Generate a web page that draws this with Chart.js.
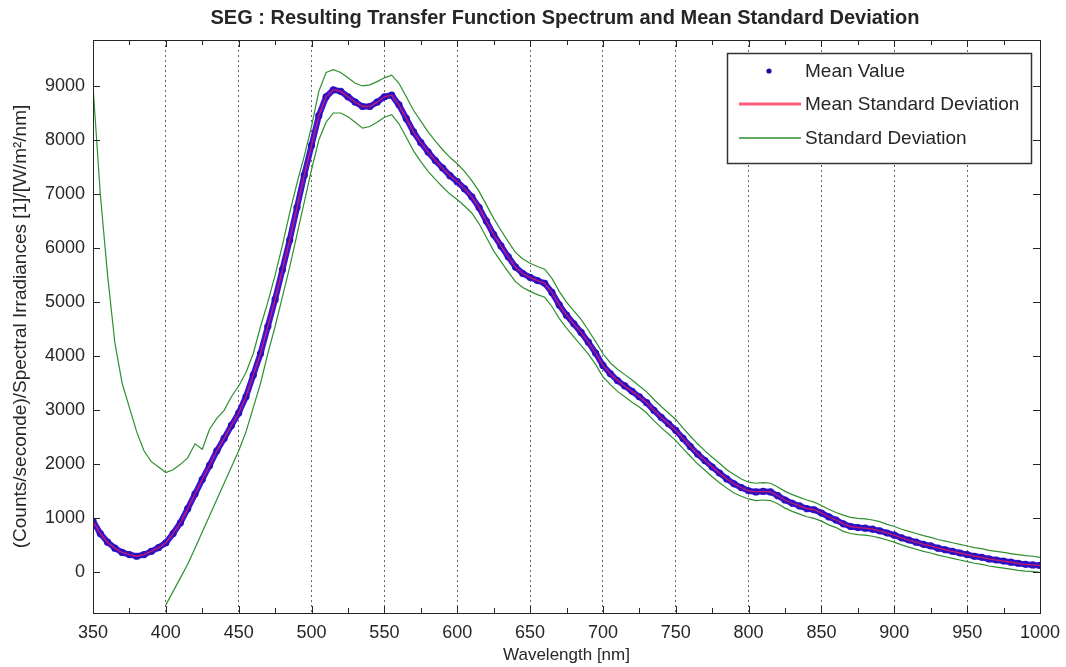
<!DOCTYPE html>
<html>
<head>
<meta charset="utf-8">
<script src="https://cdn.jsdelivr.net/npm/chart.js@4"></script>
<style>
  html, body { margin: 0; padding: 0; background: #fff; }
  #wrap { width: 1066px; height: 667px; }
</style>
</head>
<body>
<div id="wrap"><canvas id="spectrum" width="1066" height="667"></canvas></div>
<script>
// wavelength grid [nm]
const wavelengths = [
  350, 355, 360, 365, 370, 375, 380, 385, 390, 395, 400, 405, 410, 415, 420, 425, 430, 435, 440, 445,
  450, 455, 460, 465, 470, 475, 480, 485, 490, 495, 500, 505, 510, 515, 520, 525, 530, 535, 540, 545,
  550, 555, 560, 565, 570, 575, 580, 585, 590, 595, 600, 605, 610, 615, 620, 625, 630, 635, 640, 645,
  650, 655, 660, 665, 670, 675, 680, 685, 690, 695, 700, 705, 710, 715, 720, 725, 730, 735, 740, 745,
  750, 755, 760, 765, 770, 775, 780, 785, 790, 795, 800, 805, 810, 815, 820, 825, 830, 835, 840, 845,
  850, 855, 860, 865, 870, 875, 880, 885, 890, 895, 900, 905, 910, 915, 920, 925, 930, 935, 940, 945,
  950, 955, 960, 965, 970, 975, 980, 985, 990, 995, 1000
];

// mean transfer function
const meanValues = [
  950, 720, 560, 450, 370, 330, 300, 330, 390, 460, 550, 720, 920, 1180, 1450, 1720, 1980, 2250, 2480, 2720,
  2950, 3250, 3650, 4050, 4550, 5050, 5600, 6150, 6750, 7350, 7900, 8450, 8800, 8930, 8900, 8800, 8700, 8620, 8620, 8700,
  8800, 8830, 8650, 8400, 8150, 7950, 7780, 7620, 7480, 7340, 7230, 7100, 6950, 6750, 6500, 6250, 6040, 5840, 5650, 5530,
  5460, 5400, 5350, 5180, 4950, 4760, 4600, 4440, 4260, 4060, 3830, 3680, 3550, 3450, 3350, 3250, 3140, 3000, 2870, 2750,
  2630, 2480, 2330, 2190, 2070, 1950, 1840, 1730, 1640, 1570, 1510, 1490, 1500, 1490, 1420, 1340, 1280, 1230, 1180, 1160,
  1100, 1030, 970, 900, 850, 830, 820, 800, 770, 730, 690, 640, 600, 560, 520, 490, 450, 420, 390, 360,
  330, 300, 280, 250, 230, 210, 190, 170, 150, 140, 130
];

// mean + standard deviation
const upperStd = [
  9000, 7000, 5500, 4250, 3500, 3050, 2600, 2250, 2050, 1950, 1850, 1900, 2000, 2120, 2380, 2280, 2650, 2850, 3000, 3250,
  3450, 3700, 4050, 4550, 5000, 5500, 6050, 6650, 7200, 7700, 8250, 8900, 9250, 9300, 9250, 9150, 9050, 9000, 9020, 9080,
  9150, 9200, 9050, 8800, 8550, 8350, 8150, 7980, 7820, 7680, 7560, 7420, 7250, 7050, 6800, 6550, 6330, 6120, 5920, 5800,
  5720, 5660, 5610, 5440, 5200, 5000, 4840, 4680, 4480, 4270, 4050, 3880, 3760, 3660, 3560, 3450, 3340, 3200, 3070, 2950,
  2830, 2670, 2520, 2380, 2250, 2130, 2020, 1900, 1810, 1730, 1670, 1650, 1660, 1650, 1580, 1500, 1440, 1390, 1340, 1300,
  1240, 1170, 1110, 1060, 1020, 1000, 990, 970, 940, 890, 850, 800, 760, 720, 680, 650, 610, 580, 550, 520,
  490, 460, 440, 410, 390, 370, 350, 330, 310, 300, 280
];

// mean - standard deviation (not plotted below 400 nm)
const lowerStd = [
  null, null, null, null, null, null, null, null, null, null, -600, -350, -100, 150, 450, 750, 1050, 1350, 1650, 1950,
  2250, 2600, 3050, 3500, 4050, 4550, 5100, 5650, 6250, 6850, 7450, 8000, 8330, 8500, 8500, 8430, 8330, 8220, 8250, 8330,
  8420, 8470, 8300, 8050, 7800, 7600, 7420, 7270, 7130, 7000, 6900, 6780, 6650, 6450, 6200, 5950, 5750, 5560, 5380, 5270,
  5200, 5140, 5090, 4920, 4700, 4520, 4360, 4200, 4040, 3850, 3620, 3480, 3350, 3250, 3150, 3060, 2950, 2810, 2680, 2560,
  2440, 2290, 2150, 2010, 1890, 1770, 1660, 1560, 1470, 1410, 1360, 1330, 1340, 1330, 1270, 1190, 1130, 1080, 1030, 1000,
  950, 880, 830, 760, 720, 700, 690, 670, 640, 600, 560, 510, 470, 430, 390, 360, 320, 290, 260, 230,
  200, 170, 150, 120, 100, 80, 60, 40, 25, 15, 0
];

const xTicks = [350, 400, 450, 500, 550, 600, 650, 700, 750, 800, 850, 900, 950, 1000];
const yTicks = [0, 1000, 2000, 3000, 4000, 5000, 6000, 7000, 8000, 9000];
const seriesNames = ["Mean Value", "Mean Standard Deviation", "Standard Deviation"];

const FONT = "'Liberation Sans', Arial, Helvetica, sans-serif";
const TEXT = "#262626";
const BLUE = "#3a16d2";
const RED = "rgba(255, 30, 80, 0.75)";
const GREEN = "#2f8f2f";

function pts(vals) {
    return wavelengths.map((w, i) => ({ x: w, y: vals[i] }));
}

// axes box, inward ticks, title and boxed legend like the original figure
const figureDecor = {
    id: "figureDecor",
    afterDraw(chart) {
        const ctx = chart.ctx;
        const a = chart.chartArea;
        const xs = chart.scales.x, ys = chart.scales.y;
        ctx.save();
        ctx.strokeStyle = TEXT;
        ctx.lineWidth = 1;
        ctx.strokeRect(Math.round(a.left) + 0.5, Math.round(a.top) + 0.5,
            Math.round(a.right - a.left), Math.round(a.bottom - a.top));

        ctx.beginPath();
        for (let v = 350; v <= 1000; v += 25) {
            const px = Math.round(xs.getPixelForValue(v)) + 0.5;
            const len = v % 50 === 0 ? 7 : 5;
            ctx.moveTo(px, a.bottom); ctx.lineTo(px, a.bottom - len);
            ctx.moveTo(px, a.top); ctx.lineTo(px, a.top + len);
        }
        yTicks.forEach(v => {
            const py = Math.round(ys.getPixelForValue(v)) + 0.5;
            ctx.moveTo(a.left, py); ctx.lineTo(a.left + 7, py);
            ctx.moveTo(a.right, py); ctx.lineTo(a.right - 7, py);
        });
        ctx.stroke();

        // title
        ctx.fillStyle = TEXT;
        ctx.font = "bold 20px " + FONT;
        ctx.textAlign = "center";
        ctx.textBaseline = "middle";
        ctx.fillText("SEG : Resulting Transfer Function Spectrum and Mean Standard Deviation", 565, 18);

        // legend
        const lx = 727, ly = 53, lw = 304, lh = 110;
        ctx.fillStyle = "#fff";
        ctx.fillRect(lx, ly, lw, lh);
        ctx.lineWidth = 1.5;
        ctx.strokeStyle = "#333";
        ctx.strokeRect(lx + 0.5, ly + 0.5, lw, lh);

        const rows = [71, 104, 138];
        ctx.fillStyle = "#1a0aa0";
        ctx.beginPath();
        ctx.arc(769, rows[0], 2.6, 0, Math.PI * 2);
        ctx.fill();

        ctx.lineWidth = 3;
        ctx.strokeStyle = "#ff5a78";
        ctx.beginPath(); ctx.moveTo(739, rows[1]); ctx.lineTo(801, rows[1]); ctx.stroke();
        ctx.lineWidth = 1.3;
        ctx.strokeStyle = GREEN;
        ctx.beginPath(); ctx.moveTo(739, rows[2]); ctx.lineTo(801, rows[2]); ctx.stroke();

        ctx.fillStyle = TEXT;
        ctx.font = "19px " + FONT;
        ctx.textAlign = "left";
        seriesNames.forEach((name, i) => ctx.fillText(name, 805, rows[i] + 1));
        ctx.restore();
    }
};

new Chart(document.getElementById("spectrum"), {
    type: "scatter",
    data: {
        datasets: [
            {
                label: seriesNames[1],
                data: pts(meanValues),
                showLine: true,
                borderColor: RED,
                borderWidth: 1.3,
                pointRadius: 0,
                order: 0
            },
            {
                label: seriesNames[0],
                data: pts(meanValues),
                showLine: true,
                borderColor: BLUE,
                borderWidth: 6,
                pointRadius: 3.6,
                pointBackgroundColor: "#2a10c0",
                pointBorderWidth: 0,
                order: 1
            },
            {
                label: seriesNames[2],
                data: pts(upperStd),
                showLine: true,
                borderColor: GREEN,
                borderWidth: 1.2,
                pointRadius: 0,
                order: 2
            },
            {
                label: seriesNames[2] + " (lower)",
                data: pts(lowerStd),
                showLine: true,
                spanGaps: false,
                borderColor: GREEN,
                borderWidth: 1.2,
                pointRadius: 0,
                order: 3
            }
        ]
    },
    options: {
        responsive: false,
        animation: false,
        devicePixelRatio: 1,
        layout: { padding: { top: 40, right: 26, left: 0, bottom: 0 } },
        plugins: {
            legend: { display: false },
            title: { display: false },
            tooltip: { enabled: false }
        },
        scales: {
            x: {
                type: "linear",
                min: 350,
                max: 1000,
                afterBuildTicks: s => { s.ticks = xTicks.map(v => ({ value: v })); },
                afterFit: s => { s.height = 54; s.paddingRight = 0; },
                grid: {
                    drawTicks: false,
                    color: "#666",
                    lineWidth: 1
                },
                // dotted vertical grid lines (MATLAB style)
                border: { display: false, dash: [2, 3] },
                ticks: {
                    padding: 9,
                    color: TEXT,
                    font: { family: FONT, size: 18 },
                    maxRotation: 0,
                    autoSkip: false,
                    callback: v => String(v)
                },
                title: {
                    display: true,
                    text: "Wavelength [nm]",
                    color: TEXT,
                    font: { family: FONT, size: 17 },
                    padding: { top: 0, bottom: 1 }
                }
            },
            y: {
                type: "linear",
                min: -750,
                max: 9850,
                afterBuildTicks: s => { s.ticks = yTicks.map(v => ({ value: v })); },
                afterFit: s => { s.width = 93; },
                grid: { display: false, drawTicks: false },
                border: { display: false },
                ticks: {
                    padding: 8,
                    color: TEXT,
                    font: { family: FONT, size: 18 },
                    callback: v => String(v)
                },
                title: {
                    display: true,
                    text: "(Counts/seconde)/Spectral Irradiances [1]/[W/m²/nm]",
                    color: TEXT,
                    font: { family: FONT, size: 19 },
                    padding: { top: 9, bottom: 0 }
                }
            }
        }
    },
    plugins: [figureDecor]
});
</script>
</body>
</html>
